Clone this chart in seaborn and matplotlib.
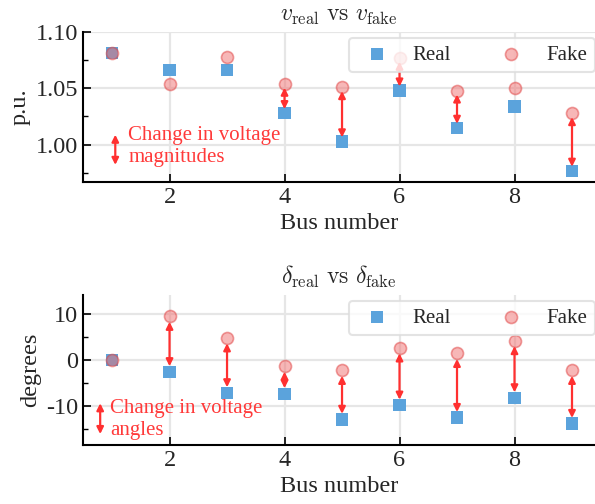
import numpy as np
import pandas as pd
import matplotlib
matplotlib.use("Agg")
import matplotlib.pyplot as plt
import seaborn as sns

buses = [1, 2, 3, 4, 5, 6, 7, 8, 9]
v_real = [1.081, 1.066, 1.066, 1.028, 1.003, 1.048, 1.015, 1.034, 0.977]
v_fake = [1.081, 1.054, 1.078, 1.054, 1.051, 1.077, 1.048, 1.050, 1.028]
d_real = [0.0, -2.5, -7.1, -7.3, -12.9, -9.8, -12.5, -8.2, -13.8]
d_fake = [0.0, 9.6, 4.9, -1.3, -2.2, 2.7, 1.5, 4.3, -2.2]
v_arrow_buses = [4, 5, 6, 7, 9]
d_arrow_buses = [2, 3, 4, 5, 6, 7, 8, 9]

sns.set_theme(style="ticks")
plt.rcParams["font.family"] = ["Liberation Serif", "DejaVu Serif"]
plt.rcParams["mathtext.fontset"] = "cm"

BLUE = "#5ba3dc"
RED = "#f07070"
ARROW = "#ff3030"

fig, axes = plt.subplots(2, 1, figsize=(5.95, 5.04), dpi=100)

panels = [
    (axes[0], v_real, v_fake, v_arrow_buses,
     r"$v_{\mathrm{real}}\ \mathrm{vs}\ v_{\mathrm{fake}}$", "p.u.",
     (0.967, 1.10), [1.00, 1.05, 1.10], 0.025, "{:.2f}",
     "Change in voltage\nmagnitudes", 0.0035,
     (0.0625, 0.315, 0.114), (0.088, 0.235)),
    (axes[1], d_real, d_fake, d_arrow_buses,
     r"$\delta_{\mathrm{real}}\ \mathrm{vs}\ \delta_{\mathrm{fake}}$", "degrees",
     (-18.5, 14.3), [-10, 0, 10], 5, "{:g}",
     "Change in voltage\nangles", 1.2,
     (0.033, 0.278, 0.073), (0.053, 0.17)),
]

for (ax, real, fake, arrb, title, ylabel, ylim, yt, minor, fmt, note, pad,
     narrow, ntext) in panels:
    df = pd.DataFrame({"bus": buses, "Real": real, "Fake": fake})
    ax.grid(True, color="#e6e6e6", linewidth=1.6, zorder=0)
    ax.set_axisbelow(True)
    sns.scatterplot(data=df, x="bus", y="Real", ax=ax, marker="s", s=80,
                    color=BLUE, edgecolor="none", label="Real", zorder=3)
    sns.scatterplot(data=df, x="bus", y="Fake", ax=ax, marker="o", s=75,
                    color=RED, edgecolor="#e04040", linewidth=1.2, alpha=0.5,
                    label="Fake", zorder=4)
    for b in arrb:
        i = buses.index(b)
        lo, hi = sorted([real[i], fake[i]])
        ax.annotate("", xy=(b, hi - pad), xytext=(b, lo + pad),
                    arrowprops=dict(arrowstyle="<|-|>", color=ARROW, lw=1.6,
                                    mutation_scale=10, shrinkA=0, shrinkB=0),
                    zorder=5)
    ax.set_xlim(0.5, 9.4)
    ax.set_ylim(*ylim)
    ax.set_xticks([2, 4, 6, 8])
    ax.set_yticks(yt)
    ax.set_yticklabels([fmt.format(t) for t in yt])
    ax.yaxis.set_minor_locator(matplotlib.ticker.MultipleLocator(minor))
    ax.tick_params(axis="both", which="major", direction="in", length=6,
                   width=1.2, labelsize=17.5, color="black")
    ax.tick_params(axis="y", which="minor", direction="in", length=3.5,
                   width=1.0, color="black")
    for s in ["left", "bottom"]:
        ax.spines[s].set_linewidth(1.5)
        ax.spines[s].set_color("black")
    ax.spines["top"].set_visible(False)
    ax.spines["right"].set_visible(False)
    ax.set_title(title, fontsize=17, pad=8)
    ax.set_xlabel("Bus number", fontsize=17.5)
    ax.set_ylabel(ylabel, fontsize=17.5)
    leg = ax.legend(loc="upper right", ncol=2, fontsize=15, frameon=True,
                    handlelength=2.0, handletextpad=0.7, columnspacing=1.9,
                    borderpad=0.35, bbox_to_anchor=(1.0, 0.96), fancybox=True,
                    framealpha=0.8, borderaxespad=0.0)
    leg.get_frame().set_edgecolor("#dddddd")
    leg.get_frame().set_linewidth(1.5)
    ax.annotate("", xy=(narrow[0], narrow[1]), xytext=(narrow[0], narrow[2]),
                xycoords="axes fraction",
                arrowprops=dict(arrowstyle="<|-|>", color=ARROW, lw=1.6,
                                mutation_scale=10, shrinkA=0, shrinkB=0))
    ax.text(ntext[0], ntext[1], note, transform=ax.transAxes,
            color="#ff3a3a", fontsize=15, va="center", ha="left",
            linespacing=1.25)

fig.subplots_adjust(left=0.14, right=1.0, top=0.937, bottom=0.117, hspace=0.75)
fig.savefig("out.png", dpi=100)
